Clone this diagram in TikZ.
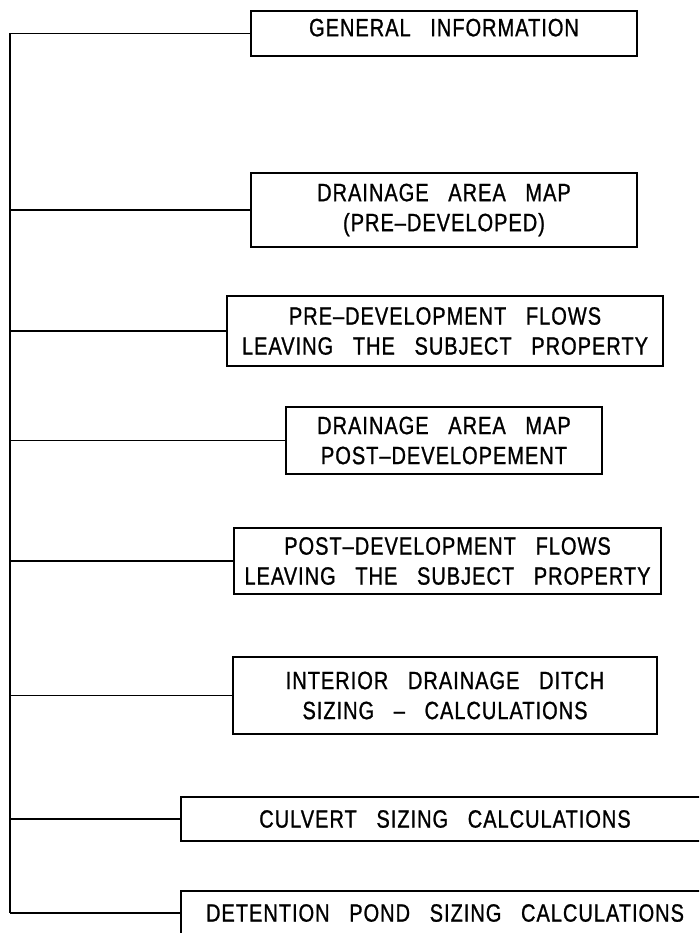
\documentclass[tikz,border=0pt]{standalone}
\usepackage{fontspec}
\setmainfont[FakeStretch=0.8,FakeBold=1,LetterSpace=4,WordSpace=3]{Liberation Sans}
\usetikzlibrary{positioning}
\tikzset{
  box/.style={draw, line width=1.7pt, inner sep=2pt, align=center, font=\fontsize{25}{30}\selectfont},
  link/.style={line width=1.7pt},
}

\begin{document}
\begin{tikzpicture}[x=1pt, y=-1pt]
      \useasboundingbox (0,0) rectangle (699,933);
      \clip (0,0) rectangle (699,933);

      \node[box, minimum width=386pt, minimum height=45pt, text depth=12pt] (gen) at (444,33.5) {GENERAL INFORMATION};
      \node[box, minimum width=386pt, minimum height=74pt] (premap) at (444,210) {DRAINAGE AREA MAP\\(PRE–DEVELOPED)};
      \node[box, minimum width=436pt, minimum height=70pt] (preflow) at (445,331) {PRE–DEVELOPMENT FLOWS\\LEAVING THE SUBJECT PROPERTY};
      \node[box, minimum width=316pt, minimum height=67pt] (postmap) at (444,440.5) {DRAINAGE AREA MAP\\POST–DEVELOPEMENT};
      \node[box, minimum width=427pt, minimum height=66pt] (postflow) at (447.5,561) {POST–DEVELOPMENT FLOWS\\LEAVING THE SUBJECT PROPERTY};
      \node[box, minimum width=424pt, minimum height=77pt] (ditch) at (445,695.5) {INTERIOR DRAINAGE DITCH\\SIZING – CALCULATIONS};
      \node[box, minimum width=528pt, minimum height=44pt] (culvert) at (445,819) {CULVERT SIZING CALCULATIONS};
      \node[box, minimum width=528pt, minimum height=44pt] (pond) at (445,913) {DETENTION POND SIZING CALCULATIONS};

      % spine on the left
      \coordinate (spine) at (10,0);
      \draw[link] (spine |- gen.west) -- (spine |- pond.west);
      \foreach \n in {gen, premap, preflow, postmap, postflow, ditch, culvert, pond}
        \draw[link] (spine |- \n.west) -- (\n.west);
    \end{tikzpicture}
\end{document}
